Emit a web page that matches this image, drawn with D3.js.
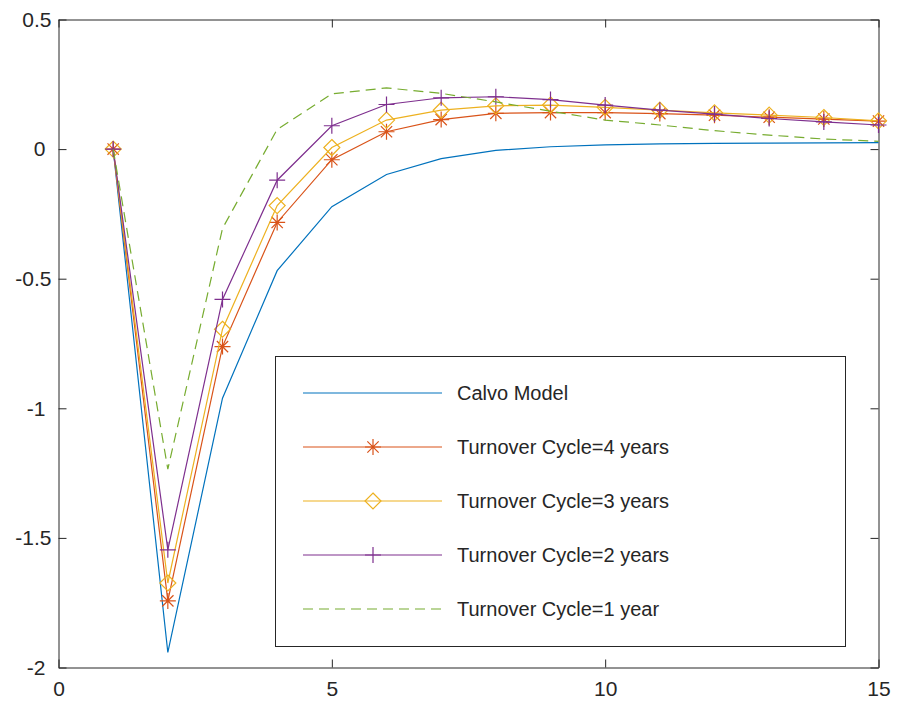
<!DOCTYPE html>
<head>
  <meta charset="utf-8">
  <script src="https://d3js.org/d3.v7.min.js"></script>
  <style>
    body { margin: 0; background: #fff; }
    text { font-family: "Liberation Sans", Arial, sans-serif; fill: #262626; }
    .axis path, .axis line { stroke: #262626; }
    .series { fill: none; stroke-width: 1.2px; }
  </style>
</head>
<body>
  <script>
    var periods = [1, 2, 3, 4, 5, 6, 7, 8, 9, 10, 11, 12, 13, 14, 15];
    var calvo   = [0, -1.942, -0.961, -0.469, -0.222, -0.098, -0.037, -0.005, 0.009, 0.016, 0.020, 0.022, 0.023, 0.024, 0.025];
    var cycle4  = [0, -1.743, -0.762, -0.283, -0.041, 0.067, 0.114, 0.138, 0.141, 0.141, 0.137, 0.131, 0.123, 0.116, 0.108];
    var cycle3  = [0, -1.674, -0.695, -0.218, 0.006, 0.112, 0.150, 0.167, 0.170, 0.161, 0.150, 0.140, 0.131, 0.122, 0.109];
    var cycle2  = [0, -1.546, -0.580, -0.120, 0.090, 0.172, 0.198, 0.202, 0.191, 0.170, 0.150, 0.135, 0.118, 0.105, 0.093];
    var cycle1  = [0, -1.235, -0.306, 0.076, 0.213, 0.236, 0.215, 0.182, 0.146, 0.112, 0.093, 0.071, 0.054, 0.039, 0.030];
    var xTicks = [0, 5, 10, 15];
    var yTicks = [0.5, 0, -0.5, -1, -1.5, -2];
    var seriesNames = ["Calvo Model", "Turnover Cycle=4 years", "Turnover Cycle=3 years",
                       "Turnover Cycle=2 years", "Turnover Cycle=1 year"];

    var series = [
      { name: seriesNames[0], values: calvo,  color: "#0072BD", marker: null,  dash: null },
      { name: seriesNames[1], values: cycle4, color: "#D95319", marker: "star", dash: null },
      { name: seriesNames[2], values: cycle3, color: "#EDB120", marker: "diamond", dash: null },
      { name: seriesNames[3], values: cycle2, color: "#7E2F8E", marker: "plus", dash: null },
      { name: seriesNames[4], values: cycle1, color: "#77AC30", marker: null,  dash: "10,6" }
    ];

    var W = 898, H = 704;
    var mLeft = 58.5, mTop = 19.5, mRight = 878.5, mBottom = 667.5;

    var svg = d3.select("body").append("svg")
      .attr("width", W)
      .attr("height", H);

    var x = d3.scaleLinear().domain([0, 15]).range([mLeft, mRight]);
    var y = d3.scaleLinear().domain([-2, 0.5]).range([mBottom, mTop]);

    // marker shapes, drawn as paths around 0,0
    function markerPath(type) {
      if (type === "plus") return "M-8,0H8M0,-8V8";
      if (type === "diamond") return "M0,-8L8,0L0,8L-8,0Z";
      if (type === "star") {
        var r = 8, d = r * 0.7071;
        return "M-" + r + ",0H" + r + "M0,-" + r + "V" + r +
               "M-" + d + ",-" + d + "L" + d + "," + d +
               "M-" + d + "," + d + "L" + d + ",-" + d;
      }
      return null;
    }

    // axes (MATLAB style box with inward ticks on all sides)
    var tk = 8;
    svg.append("g")
      .attr("class", "axis")
      .attr("transform", "translate(0," + mBottom + ")")
      .call(d3.axisBottom(x).tickValues(xTicks).tickSizeInner(-tk).tickSizeOuter(0).tickPadding(14))
      .call(function(g) { g.selectAll("text").attr("font-size", 21); });
    svg.append("g")
      .attr("class", "axis")
      .attr("transform", "translate(0," + mTop + ")")
      .call(d3.axisTop(x).tickValues(xTicks).tickSizeInner(-tk).tickSizeOuter(0).tickFormat(""));
    svg.append("g")
      .attr("class", "axis")
      .attr("transform", "translate(" + mLeft + ",0)")
      .call(d3.axisLeft(y).tickValues(yTicks).tickSizeInner(-tk).tickSizeOuter(0).tickPadding(7)
        .tickFormat(function(d) { return String(d); }))
      .call(function(g) {
        g.selectAll("text")
          .attr("font-size", 21)
          .attr("dx", function(d) { return Number.isInteger(d) ? -6 : 0; });
      });
    svg.append("g")
      .attr("class", "axis")
      .attr("transform", "translate(" + mRight + ",0)")
      .call(d3.axisRight(y).tickValues(yTicks).tickSizeInner(-tk).tickSizeOuter(0).tickFormat(""));

    var line = d3.line()
      .x(function(d, i) { return x(periods[i]); })
      .y(function(d) { return y(d); });

    var plot = svg.append("g");

    series.forEach(function(s) {
      plot.append("path")
        .attr("class", "series")
        .attr("d", line(s.values))
        .attr("stroke", s.color)
        .attr("stroke-dasharray", s.dash);
      if (s.marker) {
        plot.selectAll(null)
          .data(s.values)
          .enter().append("path")
          .attr("transform", function(d, i) { return "translate(" + x(periods[i]) + "," + y(d) + ")"; })
          .attr("d", markerPath(s.marker))
          .attr("fill", "none")
          .attr("stroke", s.color)
          .attr("stroke-width", 1.2);
      }
    });

    // legend
    var lg = svg.append("g");
    lg.append("rect")
      .attr("x", 275.5).attr("y", 356.5)
      .attr("width", 570).attr("height", 290)
      .attr("fill", "#fff")
      .attr("stroke", "#262626")
      .attr("stroke-width", 1);

    var rowY = d3.scalePoint().domain(seriesNames).range([393, 609]);

    series.forEach(function(s) {
      var ry = rowY(s.name);
      lg.append("line")
        .attr("x1", 303).attr("x2", 442)
        .attr("y1", ry).attr("y2", ry)
        .attr("stroke", s.color)
        .attr("stroke-width", 1.2)
        .attr("stroke-dasharray", s.dash);
      if (s.marker) {
        lg.append("path")
          .attr("transform", "translate(373," + ry + ")")
          .attr("d", markerPath(s.marker))
          .attr("fill", "none")
          .attr("stroke", s.color)
          .attr("stroke-width", 1.2);
      }
      lg.append("text")
        .attr("x", 457).attr("y", ry)
        .attr("dy", "0.35em")
        .attr("font-size", 20)
        .text(s.name);
    });
  </script>
</body>
